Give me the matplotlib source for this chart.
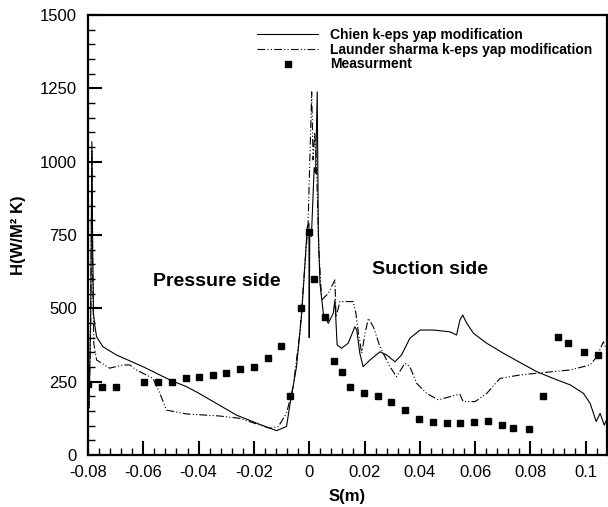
import matplotlib
matplotlib.use("Agg")
import matplotlib.pyplot as plt
from matplotlib.ticker import MultipleLocator

plt.rcParams['font.family'] = ['Liberation Sans', 'DejaVu Sans']

# measurement points
meas_s = [-0.0800, -0.0749, -0.0700, -0.0598, -0.0548, -0.0497, -0.0446, -0.0399,
          -0.0349, -0.0302, -0.0251, -0.0200, -0.0148, -0.0101, -0.0070, -0.0029,
          -0.0001, 0.0018, 0.0058, 0.0090, 0.0119, 0.0148, 0.0199, 0.0250, 0.0297,
          0.0347, 0.0398, 0.0449, 0.0499, 0.0547, 0.0597, 0.0648, 0.0699, 0.0738,
          0.0796, 0.0847, 0.0898, 0.0937, 0.0995, 0.1046]
meas_h = [242, 232, 232, 249, 249, 249, 262, 266, 273, 280, 293, 300, 331, 372, 201,
          501, 760, 600, 470, 320, 283, 232, 211, 201, 181, 153, 123, 112, 109, 109,
          112, 116, 102, 92, 89, 201, 402, 382, 351, 341]

# Chien k-eps yap modification
chien_s = [-0.0800, -0.0796, -0.0790, -0.0786, -0.0783, -0.0780, -0.0775, -0.0769,
           -0.0746, -0.0697, -0.0601, -0.0504, -0.0444, -0.0402, -0.0336, -0.0263,
           -0.0178, -0.0118, -0.0082, -0.0070, -0.0046, -0.0028, -0.0016, -0.0007,
           -0.0001, 0.0000, 0.0002, 0.0008, 0.0018, 0.0023, 0.0029, 0.0033, 0.0039,
           0.0051, 0.0069, 0.0087, 0.0093, 0.0101, 0.0117, 0.0141, 0.0165, 0.0172,
           0.0183, 0.0195, 0.0220, 0.0256, 0.0280, 0.0310, 0.0334, 0.0364, 0.0401,
           0.0449, 0.0509, 0.0533, 0.0545, 0.0555, 0.0570, 0.0594, 0.0642, 0.0702,
           0.0763, 0.0823, 0.0883, 0.0944, 0.0992, 0.1016, 0.1038, 0.1052, 0.1067,
           0.1081]
chien_h = [240, 170, 500, 1068, 700, 480, 440, 403, 369, 341, 301, 256, 233, 212, 176,
           136, 104, 83, 97, 170, 300, 471, 642, 778, 790, 400, 760, 745, 980, 960,
           1238, 756, 585, 483, 449, 483, 528, 375, 364, 381, 437, 426, 347, 301, 324,
           352, 341, 318, 341, 398, 426, 426, 420, 409, 460, 477, 449, 415, 381, 347,
           315, 284, 261, 239, 210, 176, 114, 142, 102, 131]

# Launder sharma k-eps yap modification
launder_s = [-0.0800, -0.0796, -0.0790, -0.0786, -0.0783, -0.0779, -0.0769, -0.0722,
             -0.0673, -0.0649, -0.0625, -0.0565, -0.0540, -0.0516, -0.0444, -0.0325,
             -0.0251, -0.0178, -0.0142, -0.0112, -0.0082, -0.0058, -0.0034, -0.0016,
             -0.0004, 0.0009, 0.0014, 0.0020, 0.0026, 0.0035, 0.0045, 0.0069, 0.0093,
             0.0097, 0.0111, 0.0159, 0.0169, 0.0178, 0.0190, 0.0202, 0.0214, 0.0232,
             0.0256, 0.0292, 0.0316, 0.0346, 0.0364, 0.0389, 0.0425, 0.0467, 0.0533,
             0.0545, 0.0557, 0.0600, 0.0642, 0.0690, 0.0763, 0.0847, 0.0944, 0.1016,
             0.1040, 0.1064, 0.1076]
launder_h = [220, 160, 450, 1040, 600, 380, 324, 296, 307, 307, 290, 261, 210, 153,
             140, 133, 125, 102, 91, 97, 142, 233, 415, 642, 790, 1238, 1006, 1100,
             1000, 700, 528, 551, 597, 470, 523, 523, 483, 415, 347, 415, 466, 437,
             369, 301, 267, 313, 301, 244, 210, 188, 205, 207, 182, 182, 210, 261,
             273, 281, 290, 307, 335, 386, 358]

fig = plt.figure(figsize=(6.08, 5.07), dpi=100)
ax = fig.add_axes([88 / 608, 52 / 507, 519 / 608, 440 / 507])

ax.plot(chien_s, chien_h, color='black', lw=0.8, label='Chien k-eps yap modification')
ax.plot(launder_s, launder_h, color='black', lw=0.8,
        linestyle=(0, (7, 2, 1, 2, 1, 2)),
        label='Launder sharma k-eps yap modification')
ax.plot(meas_s, meas_h, linestyle='none', marker='s', ms=5, color='black',
        label='Measurment')

ax.set_xlim(-0.08, 0.1077)
ax.set_ylim(0, 1500)
ax.xaxis.set_minor_locator(MultipleLocator(0.004))
ax.yaxis.set_major_locator(MultipleLocator(250))
ax.yaxis.set_minor_locator(MultipleLocator(50))
ax.set_xticks([-0.08, -0.06, -0.04, -0.02, 0, 0.02, 0.04, 0.06, 0.08, 0.1])
ax.set_xticklabels(['-0.08', '-0.06', '-0.04', '-0.02', '0', '0.02', '0.04',
                    '0.06', '0.08', '0.1'])
ax.tick_params(which='major', direction='in', length=10, width=1.5, labelsize=12)
ax.tick_params(which='minor', direction='in', length=5, width=1.0)
ax.tick_params(axis='x', which='major', pad=7)
ax.tick_params(axis='y', which='major', pad=8)
for sp in ax.spines.values():
    sp.set_linewidth(1.6)

ax.set_xlabel('S(m)', fontsize=12, fontweight='bold', labelpad=7)
ax.set_ylabel('H(W/M² K)', fontsize=12, fontweight='bold', labelpad=10)

ax.text(-0.0565, 593, 'Pressure side', fontsize=14, fontweight='bold', va='center')
ax.text(0.0226, 633, 'Suction side', fontsize=14, fontweight='bold', va='center')

leg = ax.legend(loc='upper left', bbox_to_anchor=(257 / 608, 1 - 28 / 507),
                bbox_transform=fig.transFigure, frameon=False,
                prop={'weight': 'bold', 'size': 10}, handlelength=4.4,
                handletextpad=0.85, labelspacing=0.05, borderpad=0, borderaxespad=0)

fig.savefig('out.png', dpi=100)
